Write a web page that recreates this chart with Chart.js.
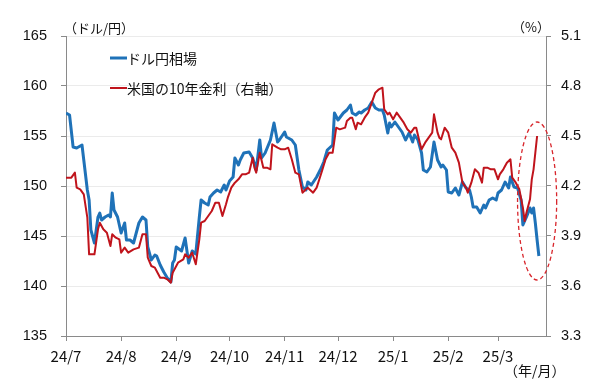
<!DOCTYPE html>
<html>
<head>
<meta charset="utf-8">
<script src="https://cdn.jsdelivr.net/npm/chart.js@4.4.1/dist/chart.umd.min.js"></script>
<style>
html,body{margin:0;padding:0;background:#fff;}
canvas{display:block;}
</style>
</head>
<body>
<canvas id="c" width="600" height="387"></canvas>
<script>
// x values: calendar days since 2024/7/1
const tickDays   = [0, 31, 62, 92, 123, 153, 184, 215, 243];
const tickLabels = ['24/7','24/8','24/9','24/10','24/11','24/12','25/1','25/2','25/3'];
const leftTicks  = [135, 140, 145, 150, 155, 160, 165];
const rightTicks = [3.3, 3.6, 3.9, 4.2, 4.5, 4.8, 5.1];

const usdDays = [0,2,4,6,9,10,12,13,14,16,18,19,20,22,24,25,26,27,29,31,33,34,36,38,41,43,45,46,48,50,51,53,55,57,59,60,61,62,65,67,69,71,73,75,76,78,80,81,83,85,87,89,90,92,94,95,97,98,100,103,105,107,109,110,112,115,117,119,120,123,124,127,129,131,133,135,136,138,141,143,145,147,150,151,153,156,158,160,161,163,165,166,168,170,172,174,176,178,179,181,182,183,185,187,189,191,193,195,196,198,200,201,203,205,207,209,211,212,214,215,217,219,221,223,225,227,228,229,231,233,235,236,238,240,242,243,245,247,249,250,252,254,256,257,259,261,262,263,264,265,266];
const usdJpy  = [157.3,157.1,153.9,153.8,154.1,152.6,149.6,148.6,145.6,144.3,146.9,147.3,146.6,146.9,147.1,146.9,149.3,147.6,146.9,145.3,146.3,144.6,144.6,144.3,146.3,146.9,146.6,143.9,142.6,143.1,143.0,142.1,141.4,140.8,140.4,142.3,142.6,143.9,143.5,144.8,142.3,143.5,143.2,146.9,148.6,148.3,148.1,148.9,149.3,149.6,149.4,150.1,149.6,150.5,150.9,152.8,152.1,152.6,153.3,153.4,152.8,151.6,154.6,152.8,153.3,154.6,156.3,154.4,154.6,155.4,154.9,154.6,154.1,151.6,149.9,149.6,150.4,150.1,150.9,151.6,152.4,153.6,154.1,157.3,156.6,157.3,157.6,158.1,157.3,157.1,157.4,157.3,157.6,157.8,158.4,157.8,157.6,157.6,157.1,155.3,156.3,155.9,156.4,155.9,155.4,154.6,155.3,154.4,155.1,154.6,153.3,151.6,151.4,151.9,154.4,152.6,151.9,152.1,151.6,149.4,149.3,149.8,149.1,150.4,149.8,149.6,148.9,147.9,147.9,147.3,148.1,147.8,148.6,148.8,148.6,149.3,149.6,150.4,149.8,150.9,149.9,149.8,148.6,146.1,146.9,147.8,147.3,147.8,146.3,144.6,143.0];

const ustDays = [0,3,5,6,8,10,12,13,15,16,18,19,21,23,25,26,28,30,31,33,35,38,41,43,45,46,48,50,53,55,57,59,60,63,66,67,69,71,73,75,76,78,80,82,84,86,88,90,91,93,95,97,99,101,103,105,106,107,109,111,113,115,116,119,121,123,125,127,129,131,133,135,136,139,141,144,146,148,150,152,154,157,158,160,161,163,164,166,168,170,172,174,176,178,179,181,182,184,186,188,190,192,194,196,197,199,200,202,204,206,207,209,210,211,213,215,217,219,221,223,225,226,228,230,232,234,235,237,239,241,243,244,246,248,250,251,253,255,257,258,259,261,262,263,265];
const ust10y  = [4.25,4.25,4.28,4.19,4.18,4.15,4.01,3.79,3.79,3.79,3.94,3.98,3.94,3.92,3.84,3.91,3.89,3.88,3.80,3.83,3.80,3.82,3.83,3.91,3.91,3.77,3.72,3.71,3.65,3.65,3.64,3.62,3.68,3.74,3.76,3.79,3.77,3.80,3.73,3.88,3.98,3.99,4.02,4.05,4.10,4.10,4.02,4.09,4.13,4.19,4.22,4.24,4.27,4.27,4.28,4.37,4.31,4.28,4.40,4.31,4.31,4.30,4.45,4.43,4.42,4.42,4.43,4.36,4.28,4.27,4.16,4.18,4.19,4.16,4.19,4.29,4.36,4.40,4.40,4.55,4.54,4.55,4.59,4.61,4.61,4.54,4.58,4.57,4.61,4.64,4.70,4.76,4.78,4.79,4.66,4.63,4.64,4.60,4.64,4.61,4.58,4.54,4.52,4.55,4.55,4.46,4.42,4.46,4.49,4.52,4.63,4.52,4.49,4.48,4.55,4.52,4.43,4.40,4.34,4.22,4.19,4.16,4.22,4.30,4.28,4.22,4.31,4.31,4.30,4.30,4.24,4.27,4.30,4.34,4.36,4.25,4.22,4.18,4.07,3.99,4.04,4.12,4.24,4.30,4.50];

// highlighted area (dashed ellipse), in data units
const highlight = { fromDay: 254, toDay: 276, yenLow: 140.6, yenHigh: 156.4 };

const BLUE = '#1f72b8';
const RED  = '#c0141c';
const AXIS = '#8a8a8a';
const JP = '"Noto Sans CJK JP", "Noto Sans", sans-serif';

const toXY = (xs, ys) => xs.map((x, i) => ({ x: x, y: ys[i] }));

const overlay = {
  id: 'overlay',
  afterDraw(chart) {
    const ctx = chart.ctx, a = chart.chartArea;
    const xs = chart.scales.x, yl = chart.scales.y;
    ctx.save();
    // axis unit labels
    ctx.fillStyle = '#111';
    ctx.font = '13px ' + JP;
    ctx.textBaseline = 'middle';
    ctx.textAlign = 'left';
    ctx.fillText('（ドル/円）', a.left - 2, a.top - 8);
    ctx.textAlign = 'right';
    ctx.fillText('（%）', a.right + 4, a.top - 9);
    ctx.font = '14px ' + JP;
    ctx.textAlign = 'left';
    ctx.fillText('（年/月）', a.right - 42, chart.height - 16);

    // legend
    const ds = chart.data.datasets;
    const lx = a.left + 44;
    const rows = [a.top + 22, a.top + 52];
    ctx.font = '14px ' + JP;
    ds.forEach((d, i) => {
      const y = rows[i];
      ctx.strokeStyle = d.borderColor;
      ctx.lineWidth = d.borderWidth;
      ctx.beginPath();
      ctx.moveTo(lx, y);
      ctx.lineTo(lx + 17, y);
      ctx.stroke();
      ctx.fillStyle = '#111';
      ctx.textAlign = 'left';
      ctx.fillText(d.label, lx + 17, y + 1);
    });

    // dashed ellipse
    const x1 = xs.getPixelForValue(highlight.fromDay);
    const x2 = xs.getPixelForValue(highlight.toDay);
    const y1 = yl.getPixelForValue(highlight.yenHigh);
    const y2 = yl.getPixelForValue(highlight.yenLow);
    ctx.strokeStyle = '#d8262c';
    ctx.lineWidth = 1.3;
    ctx.setLineDash([4, 3]);
    ctx.beginPath();
    ctx.ellipse((x1 + x2) / 2, (y1 + y2) / 2, (x2 - x1) / 2, (y2 - y1) / 2, 0, 0, Math.PI * 2);
    ctx.stroke();
    ctx.restore();
  }
};

new Chart(document.getElementById('c'), {
  type: 'line',
  data: {
    datasets: [
      { label: 'ドル円相場', data: toXY(usdDays, usdJpy), yAxisID: 'y',
        borderColor: BLUE, borderWidth: 3, pointRadius: 0, tension: 0, order: 1,
        borderJoinStyle: 'round' },
      { label: '米国の10年金利（右軸）', data: toXY(ustDays, ust10y), yAxisID: 'y1',
        borderColor: RED, borderWidth: 2, pointRadius: 0, tension: 0, order: 0,
        borderJoinStyle: 'round' }
    ]
  },
  options: {
    responsive: false,
    animation: false,
    devicePixelRatio: 1,
    layout: { padding: { top: 36, left: 0, right: 0, bottom: 0 } },
    plugins: { legend: { display: false }, tooltip: { enabled: false } },
    scales: {
      x: {
        type: 'linear', position: 'bottom', min: 0, max: 270,
        afterBuildTicks: s => { s.ticks = tickDays.map(v => ({ value: v })); },
        afterFit: s => { s.height = 51; },
        ticks: { autoSkip: false, maxRotation: 0, padding: 6, color: '#111',
                 font: { family: JP, size: 15 },
                 callback: (v, i) => tickLabels[i] },
        grid: { drawOnChartArea: false, drawTicks: true, tickLength: 5, tickColor: AXIS },
        border: { color: AXIS, width: 1 }
      },
      y: {
        type: 'linear', position: 'left', min: 135, max: 165,
        afterBuildTicks: s => { s.ticks = leftTicks.map(v => ({ value: v })); },
        afterFit: s => { s.width = 66; },
        ticks: { padding: 14, color: '#111', font: { family: 'Liberation Sans, Arial, sans-serif', size: 14.5 },
                 callback: v => String(v) },
        grid: { color: '#ebebeb', lineWidth: 1, drawTicks: true, tickLength: 5, tickColor: AXIS },
        border: { color: AXIS, width: 1 }
      },
      y1: {
        type: 'linear', position: 'right', min: 3.3, max: 5.1,
        afterBuildTicks: s => { s.ticks = rightTicks.map(v => ({ value: v })); },
        afterFit: s => { s.width = 54; },
        ticks: { padding: 10, color: '#111', font: { family: 'Liberation Sans, Arial, sans-serif', size: 14.5 },
                 callback: v => v.toFixed(1) },
        grid: { drawOnChartArea: false, drawTicks: true, tickLength: 5, tickColor: AXIS },
        border: { color: AXIS, width: 1 }
      }
    }
  },
  plugins: [overlay]
});
</script>
</body>
</html>
